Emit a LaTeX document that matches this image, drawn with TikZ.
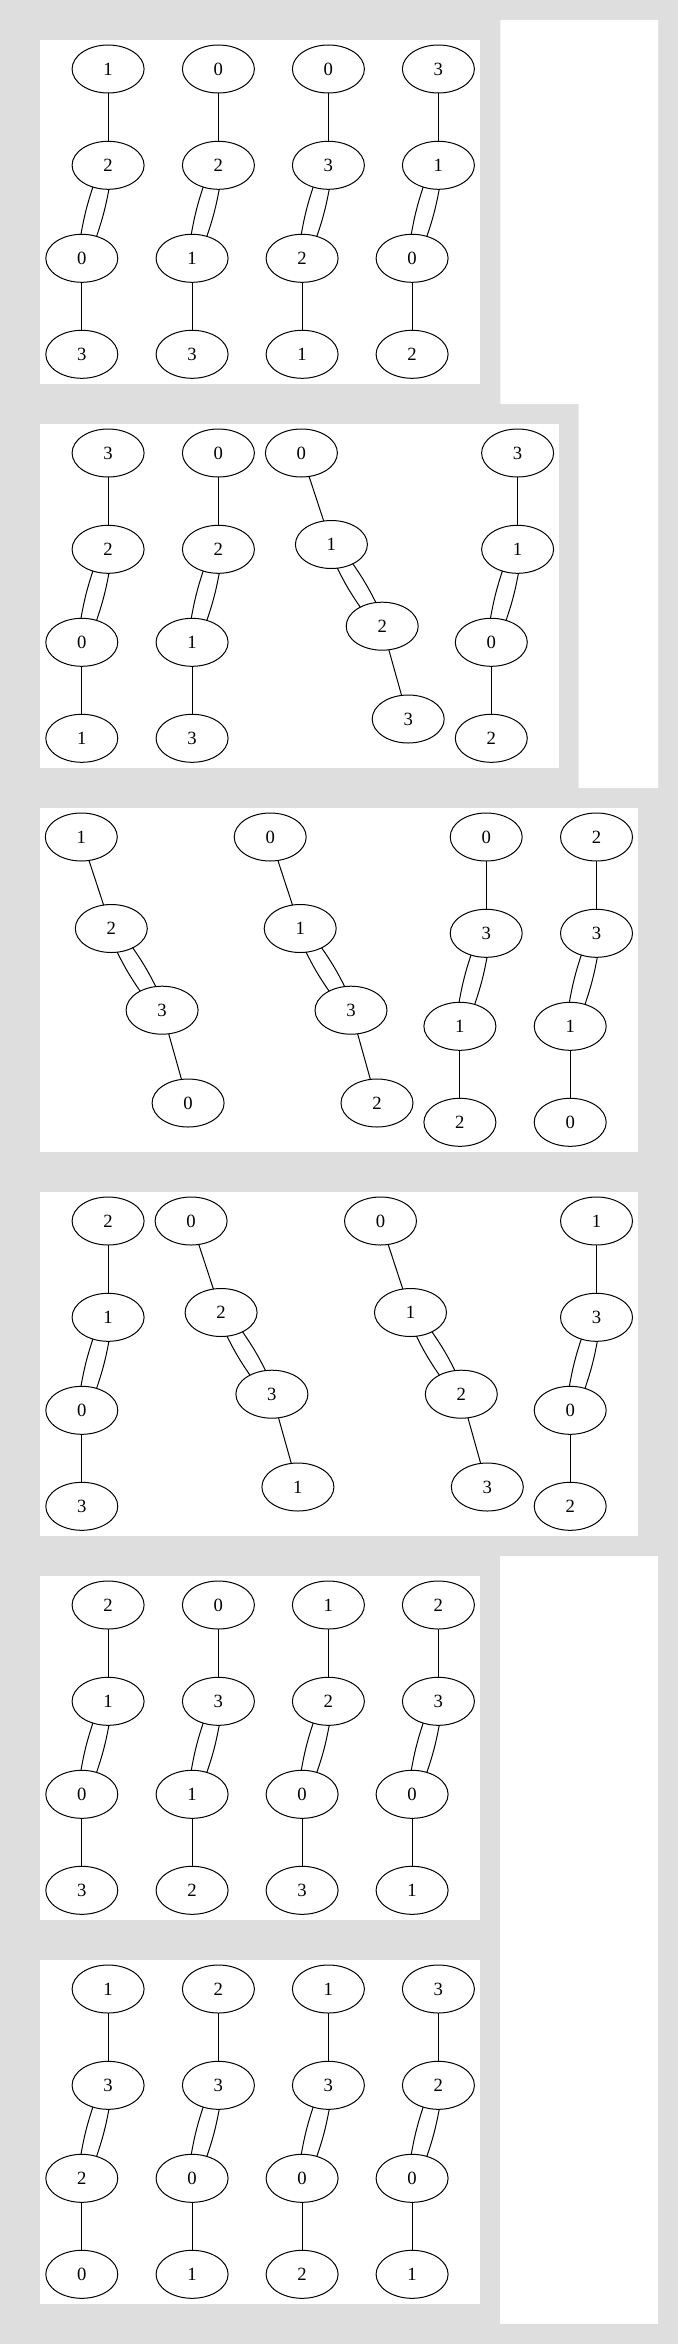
\documentclass[tikz,border=0pt]{standalone}
\usepackage{fontspec}
\setmainfont{Liberation Serif}
\usetikzlibrary{shapes.geometric}
\definecolor{bggray}{HTML}{DEDEDE}
\tikzset{
  vtx/.style={draw, ellipse, minimum width=54pt, minimum height=36pt, inner sep=0pt, outer sep=0pt, line width=0.75pt, font=\fontsize{14}{16}\selectfont},
  edge/.style={draw, line width=0.75pt},
  panel/.style={fill=white},
}
% vertical chain: #1 name, #2 x, #3 panel top, #4-#7 labels
\newcommand{\vchain}[7]{%
  \node[vtx] (#1a) at ({#2},{#3+29}) {#4};
  \node[vtx] (#1b) at ({#2},{#3+125.3}) {#5};
  \node[vtx] (#1c) at ({#2-26.3},{#3+218.3}) {#6};
  \node[vtx] (#1d) at ({#2-26.3},{#3+314.3}) {#7};
  \draw[edge] (#1a) -- (#1b);
  \draw[edge] (#1c) -- (#1d);
  \draw[edge] (#1b.-88) to[bend left=4] (#1c.56);
  \draw[edge] (#1b.-125) to[bend right=4] (#1c.92);
}
% slanted chain: #1 name, #2 x of first node, #3 panel top, #4-#7 labels
\newcommand{\schain}[7]{%
  \node[vtx] (#1a) at ({#2},{#3+29}) {#4};
  \node[vtx] (#1b) at ({#2+30},{#3+120.5}) {#5};
  \node[vtx] (#1c) at ({#2+80.8},{#3+202.2}) {#6};
  \node[vtx] (#1d) at ({#2+106.8},{#3+295}) {#7};
  \draw[edge] (#1a) -- (#1b);
  \draw[edge] (#1c) -- (#1d);
  \draw[edge] (#1b.-42) to[bend left=4] (#1c.105);
  \draw[edge] (#1b.-76) to[bend right=4] (#1c.139);
}
\begin{document}
\begin{tikzpicture}[x=0.75pt,y=-0.75pt]
\useasboundingbox (0,0) rectangle (678,2344);
\fill[bggray] (0,0) rectangle (678,2344);
% white columns on the right
\fill[white] (500.3,20) -- (658,20) -- (658,788) -- (578.5,788) -- (578.5,404) -- (500.3,404) -- cycle;
\fill[white] (500.3,1556) rectangle (658,2324);
% panels
\fill[panel] (40.2,40) rectangle (480,384);
\fill[panel] (40.2,424) rectangle (559,768);
\fill[panel] (40.2,808) rectangle (637.8,1152);
\fill[panel] (40.2,1192) rectangle (637.8,1536);
\fill[panel] (40.2,1576) rectangle (480,1920);
\fill[panel] (40.2,1960) rectangle (480,2304);
% panel 1
\vchain{pAa}{108.1}{40}{1}{2}{0}{3}
\vchain{pAb}{218.4}{40}{0}{2}{1}{3}
\vchain{pAc}{328.4}{40}{0}{3}{2}{1}
\vchain{pAd}{438.4}{40}{3}{1}{0}{2}
% panel 2
\vchain{pBa}{108.1}{424}{3}{2}{0}{1}
\vchain{pBb}{218.4}{424}{0}{2}{1}{3}
\schain{pBc}{301.4}{424}{0}{1}{2}{3}
\vchain{pBd}{517.6}{424}{3}{1}{0}{2}
% panel 3
\schain{pCa}{81.3}{808}{1}{2}{3}{0}
\schain{pCb}{270.2}{808}{0}{1}{3}{2}
\vchain{pCc}{486.2}{808}{0}{3}{1}{2}
\vchain{pCd}{596.5}{808}{2}{3}{1}{0}
% panel 4
\vchain{pDa}{108.1}{1192}{2}{1}{0}{3}
\schain{pDb}{191.1}{1192}{0}{2}{3}{1}
\schain{pDc}{380.5}{1192}{0}{1}{2}{3}
\vchain{pDd}{596.5}{1192}{1}{3}{0}{2}
% panel 5
\vchain{pEa}{108.1}{1576}{2}{1}{0}{3}
\vchain{pEb}{218.4}{1576}{0}{3}{1}{2}
\vchain{pEc}{328.4}{1576}{1}{2}{0}{3}
\vchain{pEd}{438.4}{1576}{2}{3}{0}{1}
% panel 6
\vchain{pFa}{108.1}{1960}{1}{3}{2}{0}
\vchain{pFb}{218.4}{1960}{2}{3}{0}{1}
\vchain{pFc}{328.4}{1960}{1}{3}{0}{2}
\vchain{pFd}{438.4}{1960}{3}{2}{0}{1}
\end{tikzpicture}
\end{document}
